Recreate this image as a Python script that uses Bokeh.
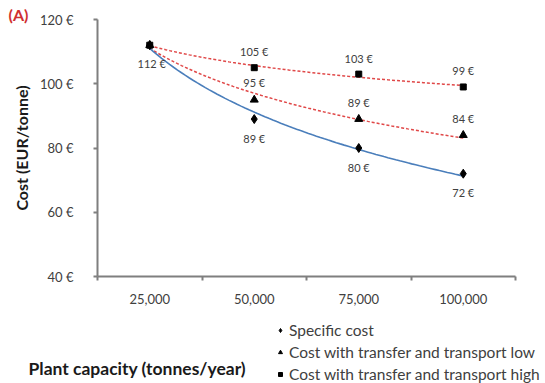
import numpy as np
from bokeh.plotting import figure
from bokeh.layouts import column
from bokeh.models import (FixedTicker, NumeralTickFormatter, PrintfTickFormatter,
                          Range1d, Legend, LegendItem, Label, Title, ColumnDataSource)
from bokeh.core.properties import value
from bokeh.embed import file_html
from bokeh.resources import INLINE

capacity = [25000, 50000, 75000, 100000]
specific_cost = [112, 89, 80, 72]
cost_transport_low = [112, 95, 89, 84]
cost_transport_high = [112, 105, 103, 99]
y_ticks = [40, 60, 80, 100, 120]
series_names = ["Specific cost",
                "Cost with transfer and transport low",
                "Cost with transfer and transport high"]

FONT = "Lato"
TXT = "#404040"
TITLE_COLOR = "#1a1a1a"

# ---- main chart -------------------------------------------------------------
p = figure(width=545, height=306, output_backend="svg", toolbar_location=None,
           x_range=Range1d(12500, 112500), y_range=Range1d(40, 120),
           min_border_left=97, min_border_right=30, min_border_top=19,
           min_border_bottom=30)
p.outline_line_color = None
p.grid.visible = False
p.border_fill_color = "white"

p.title = Title(text="(A)", align="left", offset=-89, text_font=FONT,
                text_font_style="bold", text_font_size="16px",
                text_color="#d03030", standoff=-8)

# x axis: category labels centred, ticks on the boundaries between categories
bounds = [capacity[0] - 12500] + [c + 12500 for c in capacity]
p.xaxis.ticker = FixedTicker(ticks=capacity, minor_ticks=bounds)
p.xaxis.formatter = NumeralTickFormatter(format="0,0")
p.xaxis.major_tick_out = 0
p.xaxis.major_tick_in = 0
p.xaxis.minor_tick_out = 4
p.xaxis.minor_tick_in = 0
p.xaxis.major_label_standoff = 13

p.yaxis.ticker = FixedTicker(ticks=y_ticks)
p.yaxis.formatter = PrintfTickFormatter(format="%d €")
p.yaxis.major_tick_out = 4
p.yaxis.major_tick_in = 0
p.yaxis.minor_tick_out = 0
p.yaxis.major_label_standoff = 20
p.yaxis.axis_label = "Cost (EUR/tonne)"
p.yaxis.axis_label_text_font = FONT
p.yaxis.axis_label_text_font_style = "bold"
p.yaxis.axis_label_text_font_size = "16px"
p.yaxis.axis_label_text_color = TITLE_COLOR
p.yaxis.axis_label_standoff = 6

for ax in (p.xaxis, p.yaxis):
    ax.axis_line_color = "#7f7f7f"
    ax.axis_line_width = 2
    ax.major_tick_line_color = "#7f7f7f"
    ax.minor_tick_line_color = "#7f7f7f"
    ax.major_tick_line_width = 2
    ax.minor_tick_line_width = 2
    ax.major_label_text_font = FONT
    ax.major_label_text_font_size = "13px"
    ax.major_label_text_color = TXT

# logarithmic trend lines fitted to each series
xs = np.linspace(capacity[0], capacity[-1], 80)
def trend(vals):
    b, a = np.polyfit(np.log(capacity), vals, 1)
    return a + b * np.log(xs)

p.line(xs, trend(cost_transport_high), line_color="#e04848", line_width=1.5, line_dash="3 2")
p.line(xs, trend(cost_transport_low), line_color="#e04848", line_width=1.5, line_dash="3 2")
p.line(xs, trend(specific_cost), line_color="#4a7ebb", line_width=1.6)

MARKERS = [("diamond", 9), ("triangle", 8), ("square", 6)]
for vals, (mk, sz) in zip([specific_cost, cost_transport_low, cost_transport_high], MARKERS):
    p.scatter(capacity, vals, marker=mk, size=sz, color="black")

def labels(vals, dy, start=1, dx=0):
    src = ColumnDataSource(dict(x=capacity[start:], y=vals[start:],
                                t=[f"{v} €" for v in vals[start:]]))
    p.text("x", "y", text="t", source=src, x_offset=dx, y_offset=dy,
           text_font=value(FONT), text_font_size="11px", text_color=TXT,
           text_align="center", text_baseline="middle")

labels(specific_cost, 19)
labels(cost_transport_low, -17)
labels(cost_transport_high, -16)
# shared starting value, written once
labels(specific_cost[:1], 18, start=0, dx=2)

# ---- strip below: x-axis title and legend -----------------------------------
H2 = 77
q = figure(width=545, height=H2, output_backend="svg", toolbar_location=None,
           x_range=Range1d(0, 545), y_range=Range1d(H2, 0),
           x_axis_type=None, y_axis_type=None, min_border=0)
q.grid.visible = False
q.outline_line_color = None
q.border_fill_color = "white"

# keep the strip's frame independent of the chart's borders
for fig in (p, q):
    if "frame_align" in fig.properties():
        fig.frame_align = False

q.add_layout(Label(x=28, y=62, text="Plant capacity (tonnes/year)", text_font=FONT,
                   text_font_style="bold", text_font_size="17.5px",
                   text_color=TITLE_COLOR, text_baseline="middle"))

key_renderers = [q.scatter([-50], [-50], marker=mk, size=sz * 0.75, color="black")
                 for mk, sz in MARKERS]
legend = Legend(items=[LegendItem(label=n, renderers=[r])
                       for n, r in zip(series_names, key_renderers)],
                location=(275, -2), orientation="vertical", border_line_color=None,
                background_fill_alpha=0, label_text_font=FONT,
                label_text_font_size="15.5px", label_text_color=TXT,
                glyph_width=10, glyph_height=10, label_height=22, spacing=0,
                padding=0, margin=0, label_standoff=4)
q.add_layout(legend, "center")

open("out.html", "w").write(file_html(column(p, q, spacing=0), INLINE))
